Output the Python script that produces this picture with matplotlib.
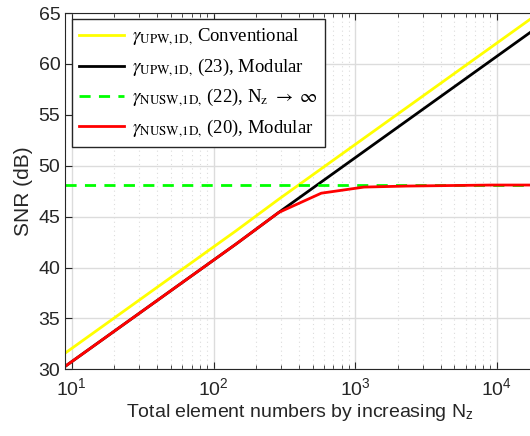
import numpy as np
import matplotlib
matplotlib.use('Agg')
import matplotlib.pyplot as plt

# --- DATA ---
n_total = [9, 18, 36, 72, 144, 288, 576, 1152, 2304, 4608, 9216, 18432]
snr_conv = [31.6, 34.6, 37.6, 40.6, 43.6, 46.7, 49.7, 52.7, 55.7, 58.7, 61.7, 64.7]
snr_upw_mod = [30.3, 33.3, 36.3, 39.3, 42.3, 45.4, 48.4, 51.4, 54.4, 57.4, 60.4, 63.4]
snr_nusw_lim = [48.1] * len(n_total)
snr_nusw_mod = [30.3, 33.3, 36.3, 39.3, 42.3, 45.4, 47.3, 47.9, 48.0, 48.05, 48.1, 48.1]

labels = [r'$\gamma_{\mathrm{UPW{,}1D{,}}}$ Conventional',
          r'$\gamma_{\mathrm{UPW{,}1D{,}}}$ (23), Modular',
          r'$\gamma_{\mathrm{NUSW{,}1D{,}}}$ (22), N$_\mathrm{z}$ $\rightarrow$ $\infty$',
          r'$\gamma_{\mathrm{NUSW{,}1D{,}}}$ (20), Modular']

plt.rcParams['font.family'] = ['Liberation Sans', 'DejaVu Sans']
plt.rcParams['mathtext.fontset'] = 'stix'

fig = plt.figure(figsize=(5.3, 4.36), dpi=100)
ax = fig.add_axes([65.3 / 530, 1 - 369.3 / 436, (534.6 - 65.3) / 530, (369.3 - 13) / 436])

ax.plot(n_total, snr_conv, color='#ffff00', lw=2, label=labels[0])
ax.plot(n_total, snr_upw_mod, color='black', lw=2, label=labels[1])
ax.plot(n_total, snr_nusw_lim, color='#00ff00', lw=2, ls=(0, (4, 3)), label=labels[2])
ax.plot(n_total, snr_nusw_mod, color='red', lw=2, label=labels[3])

ax.set_xscale('log')
ax.set_xlim(9, 18432)
ax.set_ylim(30, 65)
ax.set_yticks(np.arange(30, 66, 5))

ax.grid(True, which='major', color='#dcdcdc', lw=1)
ax.grid(True, which='minor', color='#dcdcdc', lw=0.8, ls=(0, (1, 3)))
ax.set_axisbelow(True)
ax.tick_params(which='both', direction='in', top=True, right=False, colors='#262626',
               labelsize=14)
ax.tick_params(which='major', length=5)
ax.tick_params(which='minor', length=3)
ax.tick_params(axis='x', pad=6)
for s in ax.spines.values():
    s.set_color('#262626')

ax.set_xlabel(r'Total element numbers by increasing N$_\mathregular{z}$', fontsize=14,
              color='#262626', labelpad=2)
ax.set_ylabel('SNR (dB)', fontsize=15, color='#262626', labelpad=4)

leg = ax.legend(loc='upper left', bbox_to_anchor=(0.014, 0.982), fancybox=False,
                edgecolor='#262626', framealpha=1, handlelength=2.4,
                prop={'family': 'Liberation Serif', 'size': 13.5},
                labelspacing=0.45, borderaxespad=0, handletextpad=0.4)
leg.get_frame().set_linewidth(1)

fig.savefig('out.png', dpi=100)
